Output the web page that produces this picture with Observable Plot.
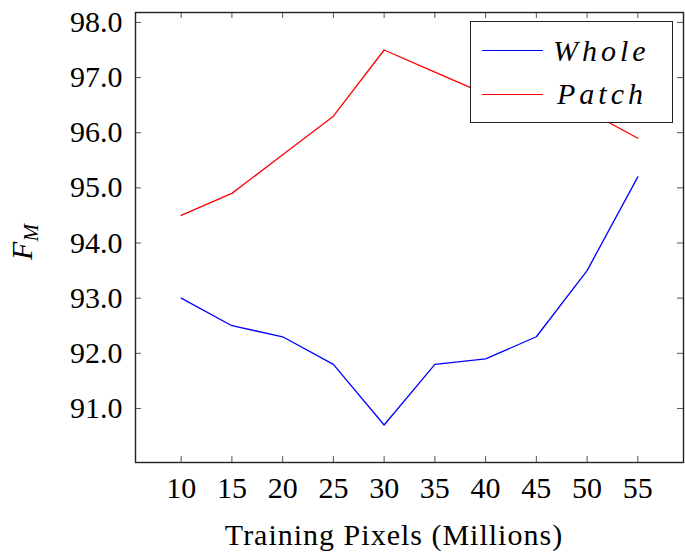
<!DOCTYPE html>
<html>
<head>
<meta charset="utf-8">
<style>
  body { margin: 0; background: #fff; }
  #wrap { position: relative; width: 685px; height: 558px; font-family: 'Liberation Serif', serif; color: #000; }
  #wrap svg { position: absolute; left: 0; top: 0; }
  .ov { position: absolute; white-space: nowrap; }
  #xlab { left: 144px; width: 500px; top: 520px; font-size: 30px; line-height: 30px; text-align: center; letter-spacing: 1px; }
  #ylab { left: -28px; top: 227px; width: 100px; height: 30px; font-size: 30px; line-height: 30px; text-align: center; font-style: italic; transform: rotate(-90deg); }
  #ylab .sub { font-size: 21px; vertical-align: -6px; }
  #legend { left: 470px; top: 21px; width: 203px; height: 102px; box-sizing: border-box; border: 1.4px solid #222; background: #fff; z-index: 2; }
  .lgline { position: absolute; left: 11px; width: 61px; height: 1.4px; }
  .lgtext { position: absolute; font-size: 30px; line-height: 30px; font-style: italic; letter-spacing: 4px; }
</style>
</head>
<body>
<div id="wrap">
  <div id="xlab" class="ov">Training Pixels (Millions)</div>
  <div id="ylab" class="ov">F<span class="sub">M</span></div>
  <div id="legend" class="ov">
    <div class="lgline" id="lg0" style="top:28px"></div>
    <div class="lgtext" id="lt0" style="left:82px;top:14px">Whole</div>
    <div class="lgline" id="lg1" style="top:72px"></div>
    <div class="lgtext" id="lt1" style="left:86px;top:57px">Patch</div>
  </div>
</div>
<script src="https://cdn.jsdelivr.net/npm/d3@7"></script>
<script src="https://cdn.jsdelivr.net/npm/@observablehq/plot@0.6"></script>
<script>
const xValues = [10, 15, 20, 25, 30, 35, 40, 45, 50, 55];
const wholeValues = [93.0, 92.5, 92.3, 91.8, 90.7, 91.8, 91.9, 92.3, 93.5, 95.2];
const patchValues = [94.5, 94.9, 95.6, 96.3, 97.5, 97.1, 96.7, 96.5, 96.4, 95.9];
const seriesNames = ["Whole", "Patch"];
const seriesColors = ["#0000ff", "#ff0000"];
const yTicks = [91, 92, 93, 94, 95, 96, 97, 98];
const xTicks = xValues;

const data = [];
xValues.forEach((x, i) => {
  data.push({x, y: wholeValues[i], s: seriesNames[0]});
  data.push({x, y: patchValues[i], s: seriesNames[1]});
});

const FONT = "'Liberation Serif', serif";
const W = 685, H = 558;
const mL = 135, mR = 2, mT = 12, mB = 96;
const innerW = W - mL - mR, innerH = H - mT - mB;
const tl = 6;

const chart = Plot.plot({
  width: W, height: H,
  marginLeft: mL, marginRight: mR, marginTop: mT, marginBottom: mB,
  style: {fontFamily: FONT, fontSize: "30px", color: "#000", background: "transparent"},
  x: {domain: [5.5, 59.5], ticks: xTicks},
  y: {domain: [90.02, 98.18], ticks: yTicks},
  color: {domain: seriesNames, range: seriesColors},
  marks: [
    Plot.axisX(xTicks, {anchor: "bottom", tickSize: 0, tickPadding: 14, label: null, fontSize: 30, tickFormat: d => String(d)}),
    Plot.axisY(yTicks, {anchor: "left", tickSize: 0, tickPadding: 13, label: null, fontSize: 30, tickFormat: d => d.toFixed(1)}),
    Plot.tickX(xTicks, {x: d => d, insetTop: innerH - tl, stroke: "#555", strokeWidth: 1}),
    Plot.tickX(xTicks, {x: d => d, insetBottom: innerH - tl, stroke: "#555", strokeWidth: 1}),
    Plot.tickY(yTicks, {y: d => d, insetRight: innerW - tl, stroke: "#555", strokeWidth: 1}),
    Plot.tickY(yTicks, {y: d => d, insetLeft: innerW - tl, stroke: "#555", strokeWidth: 1}),
    Plot.line(data, {x: "x", y: "y", z: "s", stroke: "s", strokeWidth: 1.3}),
    Plot.frame({stroke: "#222", strokeWidth: 1.4})
  ]
});
d3.select(chart).selectAll("text").style("font-family", FONT);

const wrap = document.getElementById("wrap");
wrap.insertBefore(chart, wrap.firstChild);

seriesColors.forEach((c, i) => {
  document.getElementById("lg" + i).style.background = c;
});
</script>
</body>
</html>
